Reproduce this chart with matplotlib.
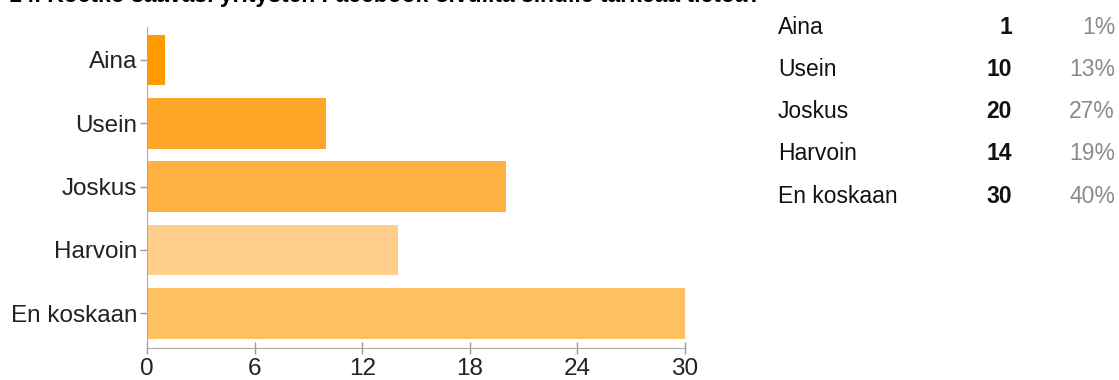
import matplotlib.pyplot as plt

plt.rcParams['font.family'] = ['Liberation Sans', 'DejaVu Sans']

title = "14. Koetko saavasi yritysten Facebook-sivuilta sinulle tärkeää tietoa?"
categories = ['Aina', 'Usein', 'Joskus', 'Harvoin', 'En koskaan']
counts = [1, 10, 20, 14, 30]
percents = ['1%', '13%', '27%', '19%', '40%']
colors = ['#FF9900', '#FFA626', '#FFB242', '#FFCD8C', '#FFC062']

fig = plt.figure(figsize=(11.19, 3.8), dpi=100)
ax = fig.add_axes([147 / 1119, 32 / 380, 538 / 1119, 321 / 380])

ypos = list(range(len(categories)))
ax.barh(ypos, counts, height=0.8, color=colors)
ax.set_ylim(len(categories) - 0.45, -0.52)
ax.set_xlim(0, 30)
ax.set_xticks([0, 6, 12, 18, 24, 30])
ax.set_yticks(ypos)
ax.set_yticklabels(categories)
ax.tick_params(axis='both', colors='#999999', labelcolor='#222222',
               labelsize=17.5, length=5, width=1, pad=2)
ax.tick_params(axis='x', direction='inout', length=8, pad=3)
for s in ['top', 'right']:
    ax.spines[s].set_visible(False)
for s in ['left', 'bottom']:
    ax.spines[s].set_color('#aaaaaa')

fig.text(0.008, 1.012, title, fontsize=16.5, fontweight='bold', va='center', ha='left')

# table on the right
row_y = [25, 68, 110, 152, 194]
for i, cat in enumerate(categories):
    y = 1 - (row_y[i] + 2) / 380
    fig.text(778 / 1119, y, cat, fontsize=16.5, va='center', ha='left', color='#111111')
    fig.text(1012 / 1119, y, str(counts[i]), fontsize=16.5, fontweight='bold',
             va='center', ha='right', color='#111111')
    fig.text(1115 / 1119, y, percents[i], fontsize=16.5, va='center', ha='right', color='#8a8a8a')

fig.savefig('out.png', dpi=100)
